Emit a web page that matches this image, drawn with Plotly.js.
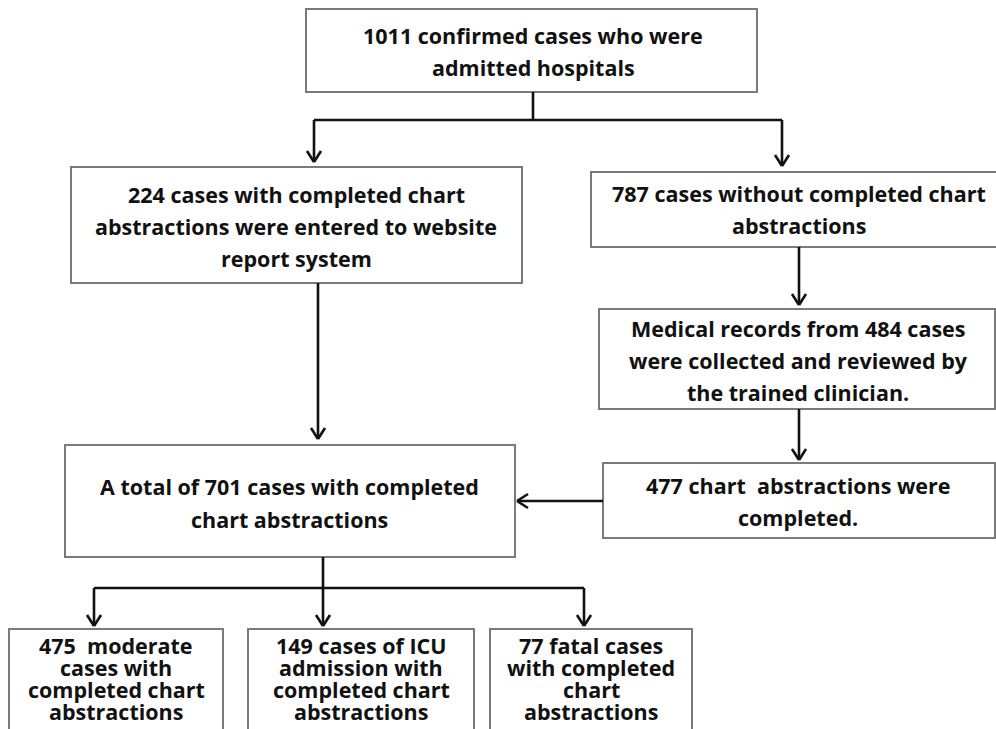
<!DOCTYPE html>
<html>
<head>
<meta charset="utf-8">
<script src="https://cdn.plot.ly/plotly-3.0.1.min.js"></script>
<style>html,body{margin:0;padding:0;background:#fff;}#chart{width:996px;height:729px;}</style>
</head>
<body>
<div id="chart"></div>
<script>
// ---- data: node counts and text lines ----
const nodeIds = ["admitted", "entered", "without", "reviewed", "completed", "total", "moderate", "icu", "fatal"];
const nodeCounts = [1011, 224, 787, 484, 477, 701, 475, 149, 77];
const nodeLines = [
  ["1011 confirmed cases who were", "admitted hospitals"],
  ["224 cases with completed chart", "abstractions were entered to website", "report system"],
  ["787 cases without completed chart", "abstractions"],
  ["Medical records from 484 cases", "were collected and reviewed by", "the trained clinician."],
  ["477 chart  abstractions were", "completed."],
  ["A total of 701 cases with completed", "chart abstractions"],
  ["475  moderate", "cases with", "completed chart", "abstractions"],
  ["149 cases of ICU", "admission with", "completed chart", "abstractions"],
  ["77 fatal cases", "with completed", "chart", "abstractions"]
];
const edges = [
  ["admitted", "entered"], ["admitted", "without"],
  ["without", "reviewed"], ["reviewed", "completed"],
  ["entered", "total"], ["completed", "total"],
  ["total", "moderate"], ["total", "icu"], ["total", "fatal"]
];

// ---- layout geometry (pixels, y downward) ----
const boxes = {
  admitted:  {x0: 306, x1: 757, y0: 9,   y1: 92,  tx: 533, ty: 51,  sp: 32},
  entered:   {x0: 71,  x1: 522, y0: 167, y1: 283, tx: 296, ty: 226, sp: 32},
  without:   {x0: 591, x1: 1010,y0: 172, y1: 247, tx: 799, ty: 209, sp: 32},
  reviewed:  {x0: 599, x1: 995, y0: 309, y1: 409, tx: 798, ty: 360, sp: 32},
  completed: {x0: 603, x1: 995, y0: 463, y1: 538, tx: 798, ty: 501, sp: 32},
  total:     {x0: 65,  x1: 515, y0: 445, y1: 557, tx: 289, ty: 503, sp: 33},
  moderate:  {x0: 9,   x1: 223, y0: 629, y1: 740, tx: 116, ty: 678, sp: 22},
  icu:       {x0: 248, x1: 474, y0: 629, y1: 740, tx: 361, ty: 678, sp: 22},
  fatal:     {x0: 490, x1: 692, y0: 629, y1: 740, tx: 591, ty: 678, sp: 22}
};

const lineColor = "#111";
const boxColor = "#7a7a7a";
const shapes = [];
const annotations = [];

function seg(x0, y0, x1, y1) {
  shapes.push({type: "line", xref: "x", yref: "y", x0, y0, x1, y1,
    line: {color: lineColor, width: 2.6}});
}
function chevronDown(x, y) { seg(x - 7, y - 11, x, y); seg(x + 7, y - 11, x, y); }
function chevronLeft(x, y) { seg(x + 11, y - 7, x, y); seg(x + 11, y + 7, x, y); }

nodeIds.forEach((id, i) => {
  const b = boxes[id];
  shapes.push({type: "rect", xref: "x", yref: "y", x0: b.x0, x1: b.x1, y0: b.y0, y1: b.y1,
    line: {color: boxColor, width: 2}, fillcolor: "rgba(0,0,0,0)"});
  const lines = nodeLines[i];
  const n = lines.length;
  lines.forEach((t, k) => {
    annotations.push({xref: "x", yref: "y", x: b.tx, y: b.ty + (k - (n - 1) / 2) * b.sp,
      text: t, showarrow: false, xanchor: "center", yanchor: "middle",
      font: {family: "'Open Sans', Lato, sans-serif", size: 21.5, color: "#111", weight: 700}});
  });
});

// connectors
const a = boxes.admitted, e = boxes.entered, w = boxes.without, r = boxes.reviewed,
      c = boxes.completed, tt = boxes.total;
const splitY = 120, leftX = 314, rightX = 782;
seg(533, a.y1, 533, splitY);
seg(leftX, splitY, rightX, splitY);
seg(leftX, splitY, leftX, 162); chevronDown(leftX, 162);
seg(rightX, splitY, rightX, 166); chevronDown(rightX, 166);
seg(799, w.y1, 799, 305); chevronDown(799, 305);
seg(799, r.y1, 799, 460); chevronDown(799, 460);
seg(318, e.y1, 318, 439); chevronDown(318, 439);
seg(c.x0, 501, 517, 501); chevronLeft(517, 501);
const botY = 588, botXs = [94, 323, 584];
seg(323, tt.y1, 323, botY);
seg(botXs[0], botY, botXs[2], botY);
botXs.forEach(x => { seg(x, botY, x, 626); chevronDown(x, 626); });

Plotly.newPlot("chart", [{x: [], y: [], type: "scatter", hoverinfo: "skip", showlegend: false}], {
  width: 996, height: 729,
  margin: {l: 0, r: 0, t: 0, b: 0},
  paper_bgcolor: "#fff", plot_bgcolor: "#fff",
  xaxis: {range: [0, 996], visible: false, fixedrange: true},
  yaxis: {range: [729, 0], visible: false, fixedrange: true},
  shapes, annotations, showlegend: false
}, {staticPlot: true});
</script>
</body>
</html>
